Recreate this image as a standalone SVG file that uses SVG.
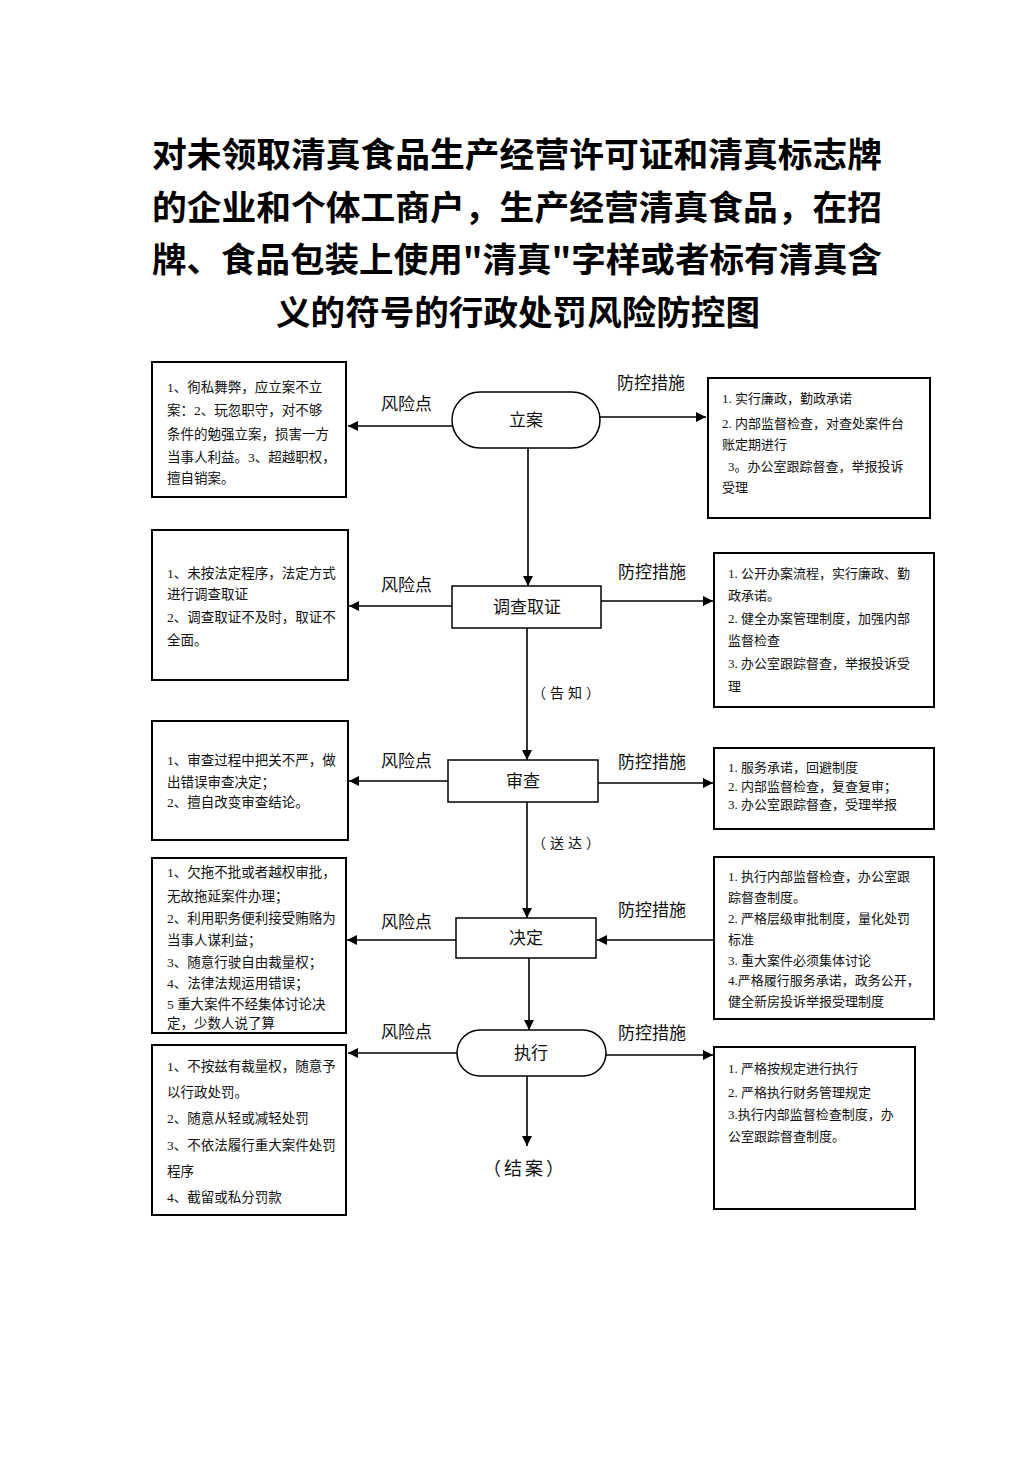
<svg xmlns="http://www.w3.org/2000/svg" width="1033" height="1461" viewBox="0 0 1033 1461">
<defs>
<marker id="ah" viewBox="0 0 10 10" refX="10" refY="5" markerWidth="10" markerHeight="10" markerUnits="userSpaceOnUse" orient="auto">
<path d="M0,0 L10,5 L0,10 Z" fill="#000"/>
</marker>
</defs>
<style>
.title{font-family:"Noto Sans CJK SC","Noto Sans CJK JP",sans-serif;font-size:34px;font-weight:bold;fill:#000}
.box{fill:#fff;stroke:#000;stroke-width:2}
.node{fill:#fff;stroke:#000;stroke-width:1.5}
.t{font-family:"Liberation Serif","Noto Sans CJK SC",serif;font-size:13.5px;fill:#111}
.tr{font-family:"Liberation Serif","Noto Sans CJK SC",serif;font-size:13px;fill:#111}
.lbl{font-family:"Noto Sans CJK SC",sans-serif;font-size:17px;fill:#111}
.nt{font-family:"Noto Sans CJK SC",sans-serif;font-size:17px;fill:#111;text-anchor:middle}
.sm{font-family:"Noto Sans CJK SC",sans-serif;font-size:14px;fill:#111;text-anchor:middle;letter-spacing:4px}
.c{stroke:#000;stroke-width:1.6;fill:none;marker-end:url(#ah)}
</style>
<rect width="1033" height="1461" fill="#fff"/>
<g id="title">
<text class="title" x="152" y="167" textLength="730" lengthAdjust="spacingAndGlyphs">对未领取清真食品生产经营许可证和清真标志牌</text>
<text class="title" x="152" y="220" textLength="730" lengthAdjust="spacingAndGlyphs">的企业和个体工商户，生产经营清真食品，在招</text>
<text class="title" x="152" y="272" textLength="730" lengthAdjust="spacingAndGlyphs">牌、食品包装上使用"清真"字样或者标有清真含</text>
<text class="title" x="276" y="325" textLength="484" lengthAdjust="spacingAndGlyphs">义的符号的行政处罚风险防控图</text>
</g>
<g id="connectors">
<line class="c" x1="528" y1="448" x2="528" y2="586"/>
<line class="c" x1="527" y1="628" x2="527" y2="760"/>
<line class="c" x1="527" y1="802" x2="527" y2="918"/>
<line class="c" x1="529" y1="958" x2="529" y2="1030"/>
<line class="c" x1="527" y1="1076" x2="527" y2="1146"/>
<line class="c" x1="452" y1="426" x2="348" y2="426"/>
<line class="c" x1="590" y1="417" x2="706" y2="417"/>
<line class="c" x1="452" y1="606" x2="349" y2="606"/>
<line class="c" x1="601" y1="601" x2="713" y2="601"/>
<line class="c" x1="448" y1="781" x2="349" y2="781"/>
<line class="c" x1="598" y1="783" x2="713" y2="783"/>
<line class="c" x1="456" y1="940" x2="347" y2="940"/>
<line class="c" x1="713" y1="940" x2="597" y2="940"/>
<line class="c" x1="457" y1="1053" x2="348" y2="1053"/>
<line class="c" x1="606" y1="1055" x2="713" y2="1055"/>
<text class="lbl" x="381" y="410">风险点</text>
<text class="lbl" x="617" y="389">防控措施</text>
<text class="lbl" x="381" y="591">风险点</text>
<text class="lbl" x="618" y="578">防控措施</text>
<text class="lbl" x="381" y="767">风险点</text>
<text class="lbl" x="618" y="768">防控措施</text>
<text class="lbl" x="381" y="928">风险点</text>
<text class="lbl" x="618" y="916">防控措施</text>
<text class="lbl" x="381" y="1038">风险点</text>
<text class="lbl" x="618" y="1039">防控措施</text>
<text class="sm" x="568" y="698">（告知）</text>
<text class="sm" x="568" y="848">（送达）</text>
</g>
<g id="n-lian">
<rect class="node" x="452" y="392" width="148" height="56" rx="28"/>
<text class="nt" x="526" y="426">立案</text>
</g>
<g id="n-diaocha">
<rect class="node" x="452" y="586" width="149" height="42"/>
<text class="nt" x="527" y="613">调查取证</text>
</g>
<g id="n-shencha">
<rect class="node" x="448" y="760" width="150" height="42"/>
<text class="nt" x="523" y="787">审查</text>
</g>
<g id="n-jueding">
<rect class="node" x="456" y="918" width="140" height="40"/>
<text class="nt" x="526" y="944">决定</text>
</g>
<g id="n-zhixing">
<rect class="node" x="457" y="1030" width="149" height="46" rx="23"/>
<text class="nt" x="531" y="1059">执行</text>
</g>
<g id="n-jiean">
<text class="nt" x="525" y="1175" style="font-size:18px;letter-spacing:3px">（结案）</text>
</g>
<g id="risk-1">
<rect class="box" x="152" y="362" width="194" height="135"/>
<text class="t" x="167" y="392">1、徇私舞弊，应立案不立</text>
<text class="t" x="167" y="415">案：2、玩忽职守，对不够</text>
<text class="t" x="167" y="439">条件的勉强立案，损害一方</text>
<text class="t" x="167" y="462">当事人利益。3、超越职权，</text>
<text class="t" x="167" y="483">擅自销案。</text>
</g>
<g id="risk-2">
<rect class="box" x="152" y="530" width="196" height="150"/>
<text class="t" x="167" y="578">1、未按法定程序，法定方式</text>
<text class="t" x="167" y="599">进行调查取证</text>
<text class="t" x="167" y="622">2、调查取证不及时，取证不</text>
<text class="t" x="167" y="645">全面。</text>
</g>
<g id="risk-3">
<rect class="box" x="152" y="721" width="196" height="119"/>
<text class="t" x="167" y="765">1、审查过程中把关不严，做</text>
<text class="t" x="167" y="787">出错误审查决定；</text>
<text class="t" x="167" y="807">2、擅自改变审查结论。</text>
</g>
<g id="risk-4">
<rect class="box" x="152" y="858" width="194" height="175"/>
<text class="t" x="167" y="877">1、欠拖不批或者越权审批，</text>
<text class="t" x="167" y="901">无故拖延案件办理；</text>
<text class="t" x="167" y="923">2、利用职务便利接受贿赂为</text>
<text class="t" x="167" y="945">当事人谋利益；</text>
<text class="t" x="167" y="967">3、随意行驶自由裁量权；</text>
<text class="t" x="167" y="988">4、法律法规运用错误；</text>
<text class="t" x="167" y="1009">5 重大案件不经集体讨论决</text>
<text class="t" x="167" y="1028">定，少数人说了算</text>
</g>
<g id="risk-5">
<rect class="box" x="152" y="1045" width="194" height="170"/>
<text class="t" x="167" y="1071">1、不按兹有裁量权，随意予</text>
<text class="t" x="167" y="1097">以行政处罚。</text>
<text class="t" x="167" y="1123">2、随意从轻或减轻处罚</text>
<text class="t" x="167" y="1150">3、不依法履行重大案件处罚</text>
<text class="t" x="167" y="1176">程序</text>
<text class="t" x="167" y="1202">4、截留或私分罚款</text>
</g>
<g id="ctrl-1">
<rect class="box" x="708" y="378" width="222" height="140"/>
<text class="tr" x="722" y="403">1.  实行廉政，勤政承诺</text>
<text class="tr" x="722" y="428">2. 内部监督检查，对查处案件台</text>
<text class="tr" x="722" y="449">账定期进行</text>
<text class="tr" x="728" y="471">3。办公室跟踪督查，举报投诉</text>
<text class="tr" x="722" y="492">受理</text>
</g>
<g id="ctrl-2">
<rect class="box" x="714" y="553" width="220" height="154"/>
<text class="tr" x="728" y="578">1. 公开办案流程，实行廉政、勤</text>
<text class="tr" x="728" y="600">政承诺。</text>
<text class="tr" x="728" y="623">2. 健全办案管理制度，加强内部</text>
<text class="tr" x="728" y="645">监督检查</text>
<text class="tr" x="728" y="668">3. 办公室跟踪督查，举报投诉受</text>
<text class="tr" x="728" y="691">理</text>
</g>
<g id="ctrl-3">
<rect class="box" x="714" y="748" width="220" height="81"/>
<text class="tr" x="728" y="772">1.  服务承诺，回避制度</text>
<text class="tr" x="728" y="791">2.  内部监督检查，复查复审；</text>
<text class="tr" x="728" y="809">3.  办公室跟踪督查，受理举报</text>
</g>
<g id="ctrl-4">
<rect class="box" x="714" y="857" width="220" height="162"/>
<text class="tr" x="728" y="881">1. 执行内部监督检查，办公室跟</text>
<text class="tr" x="728" y="902">踪督查制度。</text>
<text class="tr" x="728" y="923">2. 严格层级审批制度，量化处罚</text>
<text class="tr" x="728" y="944">标准</text>
<text class="tr" x="728" y="965">3.  重大案件必须集体讨论</text>
<text class="tr" x="728" y="985">4.严格履行服务承诺，政务公开，</text>
<text class="tr" x="728" y="1006">健全新房投诉举报受理制度</text>
</g>
<g id="ctrl-5">
<rect class="box" x="714" y="1047" width="201" height="162"/>
<text class="tr" x="728" y="1073">1.  严格按规定进行执行</text>
<text class="tr" x="728" y="1097">2.  严格执行财务管理规定</text>
<text class="tr" x="728" y="1119">3.执行内部监督检查制度，办</text>
<text class="tr" x="728" y="1141">公室跟踪督查制度。</text>
</g>
</svg>
